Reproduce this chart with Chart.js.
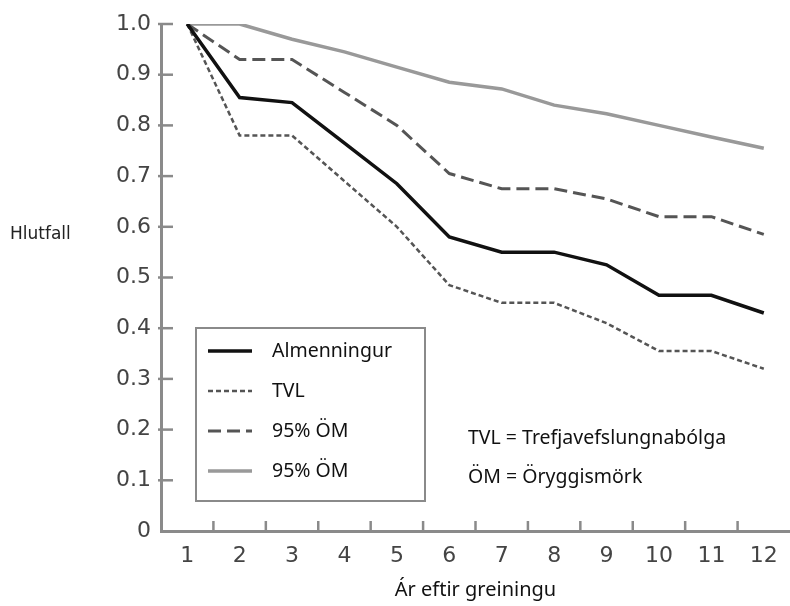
<!DOCTYPE html>
<html>
<head>
<meta charset="utf-8">
<script src="https://cdn.jsdelivr.net/npm/chart.js@4.4.0/dist/chart.umd.min.js"></script>
<style>
    html, body { margin: 0; padding: 0; background: #fff; }
    #wrap { position: relative; width: 790px; height: 606px; }
</style>
</head>
<body>
<div id="wrap"><canvas id="chart" width="790" height="606"></canvas></div>
<script>
// data
const years = ['1', '2', '3', '4', '5', '6', '7', '8', '9', '10', '11', '12']
const yTickLabels = ['0', '0.1', '0.2', '0.3', '0.4', '0.5', '0.6', '0.7', '0.8', '0.9', '1.0']

const almenningur = [1.0, 0.855, 0.845, 0.765, 0.685, 0.58, 0.55, 0.55, 0.525, 0.465, 0.465, 0.43]
const tvl = [1.0, 0.78, 0.78, 0.69, 0.60, 0.485, 0.45, 0.45, 0.41, 0.355, 0.355, 0.32]
const omDashed = [1.0, 0.93, 0.93, 0.865, 0.80, 0.705, 0.675, 0.675, 0.655, 0.62, 0.62, 0.585]
const omSolid = [1.0, 1.0, 0.97, 0.945, 0.915, 0.885, 0.872, 0.84, 0.823, 0.80, 0.777, 0.755]

const seriesNames = ['Almenningur', 'TVL', '95% ÖM', '95% ÖM']
const notes = ['TVL = Trefjavefslungnabólga', 'ÖM = Öryggismörk']

const axisColor = '#8a8a8a'
const tickFont = { family: 'DejaVu Sans', size: 22 }
const textFont = '19.5px "Noto Sans"'

// ticks pointing inward, legend box, notes and horizontal y title
const decorPlugin = {
    id: 'decor',
    afterDraw(chart) {
        const ctx = chart.ctx
        const xs = chart.scales.x
        const ys = chart.scales.y
        const area = chart.chartArea

        ctx.save()
        ctx.strokeStyle = axisColor
        ctx.lineWidth = 2.5
        for (let i = 1; i < yTickLabels.length; i++) {
            const y = ys.getPixelForValue(i / 10)
            ctx.beginPath()
            ctx.moveTo(area.left - 3, y)
            ctx.lineTo(area.left + 12, y)
            ctx.stroke()
        }
        for (let i = 1; i < years.length; i++) {
            const x = (xs.getPixelForValue(i - 1) + xs.getPixelForValue(i)) / 2
            ctx.beginPath()
            ctx.moveTo(x, area.bottom)
            ctx.lineTo(x, area.bottom - 10)
            ctx.stroke()
        }

        // y title
        ctx.fillStyle = '#222'
        ctx.font = '17px "DejaVu Sans"'
        ctx.textBaseline = 'middle'
        ctx.textAlign = 'left'
        ctx.fillText('Hlutfall', 10, ys.getPixelForValue(0.585))

        // legend
        ctx.font = textFont
        const box = { left: 196, top: 328, width: 229, height: 173 }
        ctx.strokeStyle = '#8a8a8a'
        ctx.lineWidth = 2
        ctx.strokeRect(box.left, box.top, box.width, box.height)
        chart.data.datasets.forEach((ds, i) => {
            const y = box.top + 23 + i * 40
            ctx.save()
            ctx.strokeStyle = ds.borderColor
            ctx.lineWidth = ds.borderWidth
            ctx.setLineDash(ds.borderDash || [])
            ctx.beginPath()
            ctx.moveTo(box.left + 12, y)
            ctx.lineTo(box.left + 56, y)
            ctx.stroke()
            ctx.restore()
            ctx.fillStyle = '#111'
            ctx.fillText(ds.label, box.left + 76, y)
        })

        // notes
        notes.forEach((t, i) => {
            ctx.fillText(t, 468, 438 + i * 39)
        })
        ctx.restore()
    }
}

new Chart(document.getElementById('chart'), {
    type: 'line',
    data: {
        labels: years,
        datasets: [
            {
                label: seriesNames[0],
                data: almenningur,
                borderColor: '#111',
                borderWidth: 3.5
            },
            {
                label: seriesNames[1],
                data: tvl,
                borderColor: '#555',
                borderWidth: 2.5,
                borderDash: [5, 3]
            },
            {
                label: seriesNames[2],
                data: omDashed,
                borderColor: '#555',
                borderWidth: 3,
                borderDash: [13, 6]
            },
            {
                label: seriesNames[3],
                data: omSolid,
                borderColor: '#999',
                borderWidth: 3.5
            }
        ]
    },
    options: {
        responsive: false,
        animation: false,
        layout: {
            padding: { top: 24, right: 0, left: 0, bottom: 0 }
        },
        elements: {
            point: { radius: 0 },
            line: { tension: 0, borderCapStyle: 'butt' }
        },
        plugins: {
            legend: { display: false },
            tooltip: { enabled: false }
        },
        scales: {
            x: {
                type: 'category',
                offset: true,
                grid: { display: false },
                border: { display: true, color: axisColor, width: 3 },
                ticks: {
                    color: '#444',
                    font: tickFont,
                    padding: 4,
                    maxRotation: 0,
                    autoSkip: false
                },
                title: {
                    display: true,
                    text: 'Ár eftir greiningu',
                    color: '#111',
                    font: { family: 'Noto Sans', size: 20 },
                    padding: { top: 8 }
                },
                afterFit: scale => { scale.height = 75 }
            },
            y: {
                min: 0,
                max: 1,
                grid: { display: false },
                border: { display: true, color: axisColor, width: 3 },
                ticks: {
                    stepSize: 0.1,
                    color: '#444',
                    font: tickFont,
                    padding: 2,
                    callback: (value, index) => yTickLabels[index]
                },
                afterFit: scale => { scale.width = 161 }
            }
        }
    },
    plugins: [decorPlugin]
})
</script>
</body>
</html>
